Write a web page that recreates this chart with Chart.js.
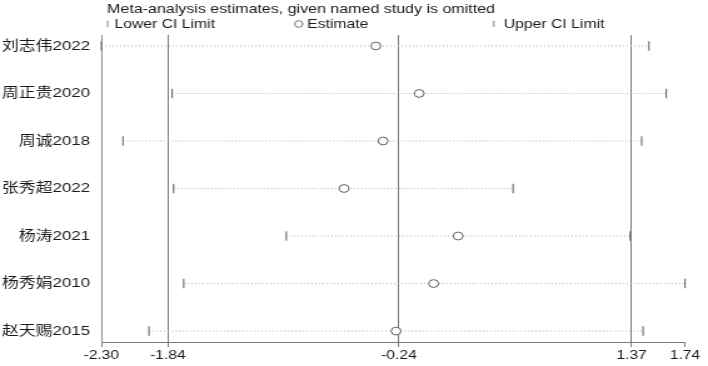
<!DOCTYPE html>
<html>
<head>
<meta charset="utf-8">
<script src="https://cdn.jsdelivr.net/npm/chart.js@4/dist/chart.umd.min.js"></script>
<style>
  html, body { margin: 0; padding: 0; background: #fff; }
  /* the reference is stretched sideways, so the canvas is too */
  #wrap { width: 566px; height: 366px; transform: scaleX(1.2509); transform-origin: 0 0; }
</style>
</head>
<body>
<div id="wrap"><canvas id="infChart" width="566" height="366"></canvas></div>
<script>
// -------------------------------
// DATA
// -------------------------------
const studies  = ["刘志伟2022", "周正贵2020", "周诚2018", "张秀超2022", "杨涛2021", "杨秀娟2010", "赵天赐2015"];
const estimate = [-0.40, -0.10, -0.35, -0.62, 0.17, 0.00, -0.26];
const lowerCI  = [-2.30, -1.81, -2.15, -1.80, -1.02, -1.73, -1.97];
const upperCI  = [1.49, 1.61, 1.44, 0.55, 1.36, 1.74, 1.45];
const xTicks   = [-2.30, -1.84, -0.24, 1.37, 1.74];
const refLines = [-1.84, -0.24, 1.37];

const TITLE = "Meta-analysis estimates, given named study is omitted";
const FONT = "'Liberation Sans', Arial, 'Noto Sans CJK SC', sans-serif";

// one dotted line per omitted study
const ciLines = studies.map((s, i) => ({
    type: "scatter",
    showLine: true,
    data: [{ x: lowerCI[i], y: i + 1 }, { x: upperCI[i], y: i + 1 }],
    borderColor: "#b0b0b0",
    borderWidth: 1,
    borderDash: [1, 2],
    pointRadius: 0,
    order: 3
}));

const markerStyle = {
    pointStyle: "line",
    rotation: 90,
    pointRadius: 4.8,
    borderColor: "#6a6a6a",
    borderWidth: 1.1,
    clip: false,
    order: 2
};

// header title + legend, drawn in the top padding
const headerPlugin = {
    id: "header",
    afterDraw(chart) {
        const ctx = chart.ctx;
        ctx.save();
        ctx.fillStyle = "#1a1a1a";
        ctx.textBaseline = "alphabetic";
        ctx.font = "12.8px " + FONT;
        ctx.fillText(TITLE, 85.6, 12.8);

        ctx.font = "12.6px " + FONT;
        ctx.strokeStyle = "#808080";
        ctx.lineWidth = 1;
        // lower
        ctx.beginPath(); ctx.moveTo(86.1, 20.8); ctx.lineTo(86.1, 27); ctx.stroke();
        ctx.fillText("Lower CI Limit", 91.4, 28.4);
        // estimate
        ctx.strokeStyle = "#555";
        ctx.lineWidth = 0.8;
        ctx.beginPath(); ctx.arc(238.8, 24, 3.3, 0, Math.PI * 2); ctx.stroke();
        ctx.fillText("Estimate", 245.6, 28.4);
        // upper
        ctx.strokeStyle = "#808080";
        ctx.lineWidth = 1;
        ctx.beginPath(); ctx.moveTo(394.8, 20.8); ctx.lineTo(394.8, 27); ctx.stroke();
        ctx.fillText("Upper CI Limit", 402.7, 28.4);
        ctx.restore();
    }
};

const ctx = document.getElementById("infChart").getContext("2d");

const chart = new Chart(ctx, {
    type: "scatter",
    data: {
        datasets: [
            ...ciLines,
            Object.assign({ data: lowerCI.map((v, i) => ({ x: v, y: i + 1 })) }, markerStyle),
            Object.assign({ data: upperCI.map((v, i) => ({ x: v, y: i + 1 })) }, markerStyle),
            {
                data: estimate.map((v, i) => ({ x: v, y: i + 1 })),
                pointStyle: "circle",
                pointRadius: 3.9,
                backgroundColor: "#ffffff",
                borderColor: "#3a3a3a",
                borderWidth: 0.8,
                clip: false,
                order: 1
            }
        ]
    },
    options: {
        responsive: false,
        animation: false,
        devicePixelRatio: 1,
        layout: { padding: { top: 35, right: 18.4, bottom: 0, left: 0 } },
        plugins: { legend: { display: false }, tooltip: { enabled: false } },
        scales: {
            x: {
                type: "linear",
                min: -2.30,
                max: 1.74,
                afterBuildTicks: (axis) => { axis.ticks = xTicks.map(v => ({ value: v })); },
                afterFit: (axis) => { axis.height = 24; },
                ticks: {
                    autoSkip: false,
                    maxRotation: 0,
                    padding: 1,
                    color: "#1a1a1a",
                    font: { family: FONT, size: 12.5 },
                    callback: (v) => Number(v).toFixed(2)
                },
                grid: {
                    color: (c) => (c.tick && refLines.includes(c.tick.value)) ? "#7a7a7a" : "rgba(0,0,0,0)",
                    lineWidth: 1,
                    tickColor: "#7a7a7a",
                    tickLength: 5,
                    drawTicks: true
                },
                border: { display: true, color: "#7a7a7a", width: 1 }
            },
            y: {
                type: "linear",
                reverse: true,
                min: 0.77,
                max: 7.23,
                afterBuildTicks: (axis) => { axis.ticks = studies.map((s, i) => ({ value: i + 1 })); },
                afterFit: (axis) => { axis.width = 81; },
                ticks: {
                    autoSkip: false,
                    padding: 9,
                    color: "#1a1a1a",
                    font: { family: FONT, size: 13.5 },
                    callback: (v) => studies[Math.round(v) - 1]
                },
                grid: { display: false, drawTicks: false },
                border: { display: true, color: "#8a8a8a", width: 1 }
            }
        }
    },
    plugins: [headerPlugin]
});
</script>
</body>
</html>
